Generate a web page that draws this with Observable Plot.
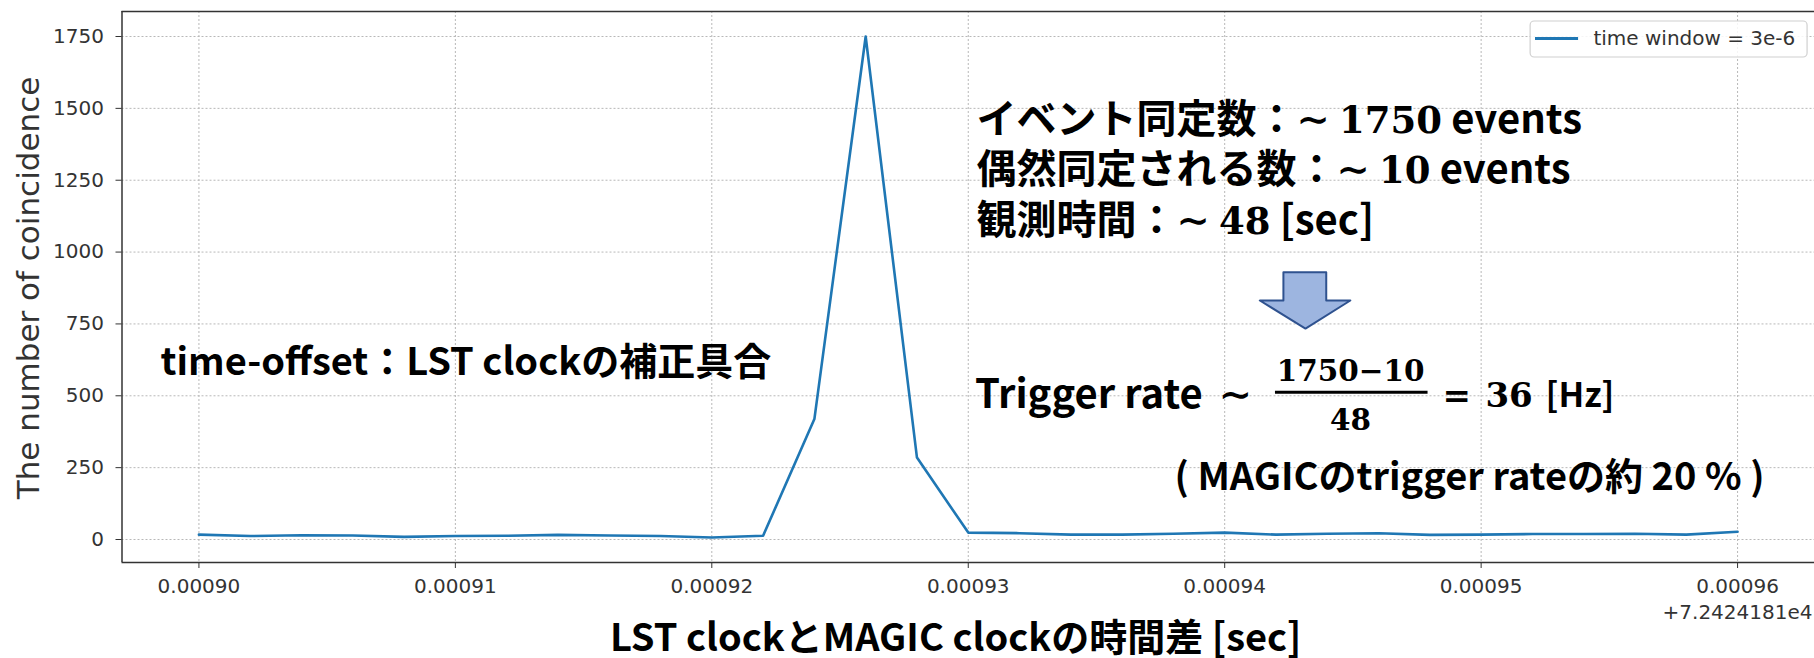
<!DOCTYPE html>
<html>
<head>
<meta charset="utf-8">
<script src="https://cdn.jsdelivr.net/npm/d3@7"></script>
<script src="https://cdn.jsdelivr.net/npm/@observablehq/plot@0.6"></script>
<style>
html, body { margin: 0; padding: 0; background: #fff; overflow: hidden; }
#chart { width: 1814px; height: 658px; }
</style>
</head>
<body>
<div id="chart"></div>
<script>
// ---- data (x is offset from +7.2424181e4 sec) ----
const timeDiff = [0.000900, 0.000902, 0.000904, 0.000906, 0.000908, 0.000910, 0.000912, 0.000914,
  0.000916, 0.000918, 0.000920, 0.000922, 0.000924, 0.000926, 0.000928, 0.000930, 0.000932,
  0.000934, 0.000936, 0.000938, 0.000940, 0.000942, 0.000944, 0.000946, 0.000948, 0.000950,
  0.000952, 0.000954, 0.000956, 0.000958, 0.000960];
const coincidences = [17, 12, 15, 14, 9, 12, 13, 16, 14, 12, 7, 13, 419, 1750, 285, 24, 22,
  17, 17, 20, 24, 17, 20, 22, 16, 17, 19, 19, 20, 17, 27];
const xTicks = [0.00090, 0.00091, 0.00092, 0.00093, 0.00094, 0.00095, 0.00096];
const yTicks = [0, 250, 500, 750, 1000, 1250, 1500, 1750];
const seriesName = "time window = 3e-6";
const offsetText = "+7.2424181e4";
const yLabel = "The number of coincidence";
const xLabel = "LST clockとMAGIC clockの時間差 [sec]";
const noteTexts = [
  "time-offset：LST clockの補正具合",
  "イベント同定数：∼ 1750 events",
  "偶然同定される数：∼ 10 events",
  "観測時間：∼ 48 [sec]",
  "Trigger rate",
  "∼",
  "1750−10",
  "48",
  "= 36 [Hz]",
  "( MAGICのtrigger rateの約 20 % )"
];

// ---- layout / styling (annotation anchors in data units) ----
const xDomain = [0.000897, 0.000963];
const yDomain = [-80, 1837];
const lineRich = {digitSize: 37, dx: [null, null]};
const hzRich = {digitSize: null, dx: ["0.2em", "0.15em"]};
const noteLayout = [
  {x: 0.00089850, y: 570.6, anchor: "start", size: 38, font: "sans"},
  {x: 0.00093032, y: 1412.6, anchor: "start", size: 40, font: "sans", rich: lineRich},
  {x: 0.00093032, y: 1238.6, anchor: "start", size: 40, font: "sans", rich: lineRich},
  {x: 0.00093032, y: 1064.6, anchor: "start", size: 40, font: "sans", rich: lineRich},
  {x: 0.00093026, y: 455.8, anchor: "start", size: 40, font: "sans"},
  {x: 0.00094042, y: 455.8, anchor: "middle", size: 40, font: "serif"},
  {x: 0.00094491, y: 553.2, anchor: "middle", size: 29.5, font: "serif"},
  {x: 0.00094491, y: 379.3, anchor: "middle", size: 29.5, font: "serif"},
  {x: 0.00094849, y: 460, anchor: "start", size: 34, font: "sans", rich: hzRich},
  {x: 0.00093804, y: 170.5, anchor: "start", size: 38, font: "sans"}
];
const notes = noteTexts.map((t, i) => ({text: t, ...noteLayout[i]}));
const fractionBar = {x1: 0.00094198, x2: 0.00094793, y: 512.5};
const arrowShape = [
  {x: 0.00094229, y: 930}, {x: 0.00094396, y: 930}, {x: 0.00094396, y: 831.5},
  {x: 0.00094490, y: 831.5}, {x: 0.00094315, y: 734}, {x: 0.00094137, y: 831.5},
  {x: 0.00094229, y: 831.5}, {x: 0.00094229, y: 930}
];
const legendBox = {x1: 0.00095193, x2: 0.00096273, y1: 1677, y2: 1802.2};
const legendLine = {x1: 0.00095212, x2: 0.00095380, y: 1743};
const legendText = {x: 0.00095438, y: 1743};

const data = timeDiff.map((x, i) => ({x, y: coincidences[i]}));
const blue = "#1f77b4";
const cjk = "Noto Sans CJK JP";
const serif = "DejaVu Serif";
const noteStyle = {x: "x", y: "y", text: "text", lineAnchor: "bottom", fontSize: d => d.size, fontWeight: "bold", fill: "#000"};
const pick = (anchor, font) => notes.filter(d => d.anchor === anchor && d.font === font);

const chart = Plot.plot({
  width: 1814,
  height: 658,
  marginLeft: 121.5,
  marginRight: 0,
  marginTop: 11,
  marginBottom: 96,
  style: {fontFamily: "DejaVu Sans", fontSize: "20px", color: "#333", background: "#fff", overflow: "visible"},
  x: {domain: xDomain},
  y: {domain: yDomain},
  marks: [
    Plot.gridX(xTicks, {stroke: "#b8b8b8", strokeOpacity: 1, strokeWidth: 1, strokeDasharray: "2,2"}),
    Plot.gridY(yTicks, {stroke: "#b8b8b8", strokeOpacity: 1, strokeWidth: 1, strokeDasharray: "2,2"}),
    Plot.axisX(xTicks, {tickFormat: d => d.toFixed(5), tickSize: 6, tickPadding: 10, label: null, fontSize: 20, stroke: "#333"}),
    Plot.axisY(yTicks, {tickFormat: d => String(d), tickSize: 6, tickPadding: 12, label: null, fontSize: 20, stroke: "#333"}),
    Plot.ruleX([xDomain[0]], {stroke: "#333", strokeWidth: 1.5}),
    Plot.ruleY(yDomain, {stroke: "#333", strokeWidth: 1.5}),
    Plot.line(data, {x: "x", y: "y", stroke: blue, strokeWidth: 2.6}),
    // legend
    Plot.rect([legendBox], {x1: "x1", x2: "x2", y1: "y1", y2: "y2", fill: "#fff", fillOpacity: 0.85, stroke: "#d0d0d0", strokeWidth: 1.2, rx: 4}),
    Plot.ruleY([legendLine], {x1: "x1", x2: "x2", y: "y", stroke: blue, strokeWidth: 3}),
    Plot.text([legendText], {x: "x", y: "y", text: () => seriesName, textAnchor: "start", lineAnchor: "middle", fontSize: 20, fill: "#333"}),
    // offset text
    Plot.text([offsetText], {frameAnchor: "bottom-right", text: d => d, textAnchor: "end", lineAnchor: "middle", dx: -2, dy: 50, fontSize: 20, fill: "#333"}),
    // axis labels
    Plot.text([yLabel], {frameAnchor: "left", text: d => d, rotate: -90, textAnchor: "middle", lineAnchor: "middle", dx: -92.5, dy: 1, fontSize: 31, fill: "#333"}),
    Plot.text([xLabel], {frameAnchor: "bottom-left", text: d => d, textAnchor: "start", lineAnchor: "bottom", dx: 488, dy: 88, fontSize: 38, fontWeight: "bold", fontFamily: cjk, fill: "#000"}),
    // annotations
    Plot.line(arrowShape, {x: "x", y: "y", fill: "#9db5e0", stroke: "#2f528f", strokeWidth: 2, curve: "linear"}),
    Plot.ruleY([fractionBar], {x1: "x1", x2: "x2", y: "y", stroke: "#000", strokeWidth: 3}),
    Plot.text(pick("start", "sans"), {...noteStyle, textAnchor: "start", fontFamily: cjk}),
    Plot.text(pick("middle", "serif"), {...noteStyle, textAnchor: "middle", fontFamily: serif})
  ]
});

// mixed fonts: math symbols and numbers in serif, as in the slide
d3.select(chart).selectAll("text").each(function () {
  const idx = noteTexts.indexOf(this.textContent);
  if (idx < 0 || !noteLayout[idx].rich) return;
  const rich = noteLayout[idx].rich;
  const parts = this.textContent.split(/(∼|=|\d+)/).filter(p => p !== "");
  const el = d3.select(this);
  el.text(null);
  let afterNumber = false;
  for (const p of parts) {
    const t = el.append("tspan").text(p);
    if (p === "∼" || p === "=") {
      t.attr("font-family", serif);
      afterNumber = false;
    } else if (/^\d+$/.test(p)) {
      t.attr("font-family", serif);
      if (rich.digitSize) t.attr("font-size", rich.digitSize);
      if (rich.dx[0]) t.attr("dx", rich.dx[0]);
      afterNumber = true;
    } else {
      if (afterNumber && rich.dx[1]) t.attr("dx", rich.dx[1]);
      afterNumber = false;
    }
  }
});

document.getElementById("chart").appendChild(chart);
</script>
</body>
</html>
